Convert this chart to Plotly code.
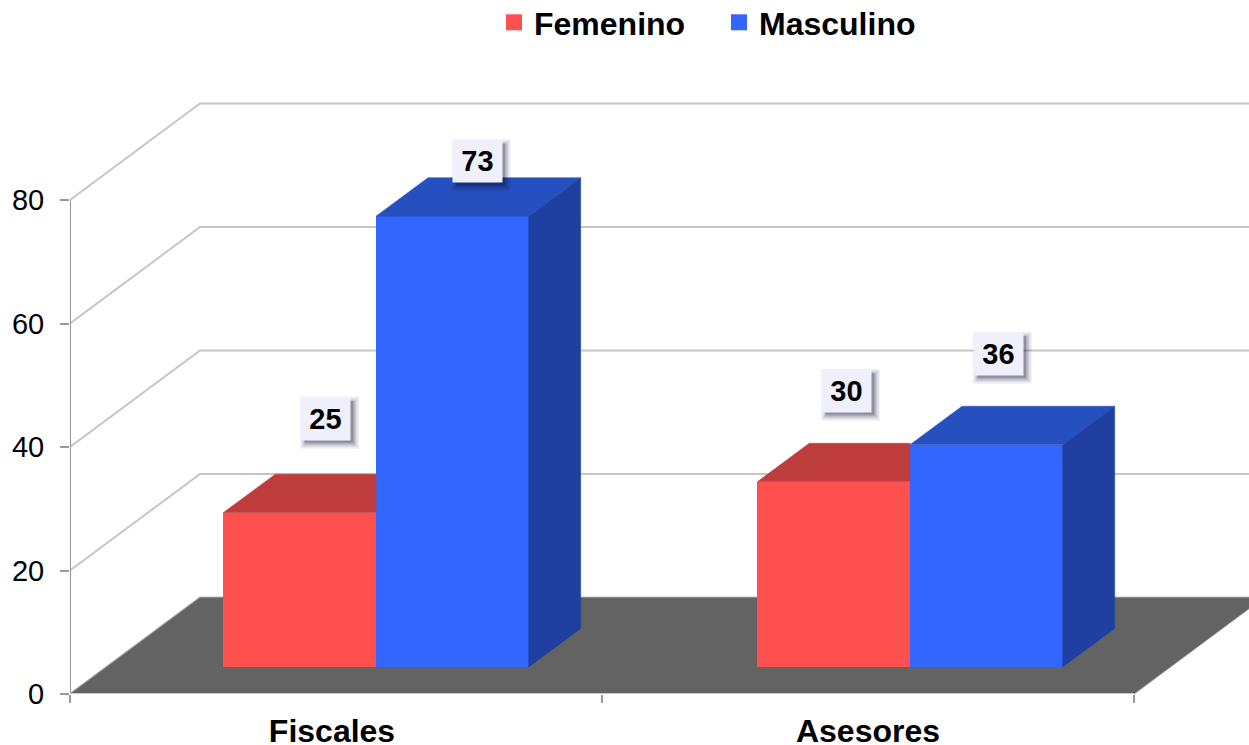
import plotly.graph_objects as go

categories = ["Fiscales", "Asesores"]
femenino = [25, 30]
masculino = [73, 36]
y_ticks = [0, 20, 40, 60, 80]

FONT = "Liberation Sans"
PX_X = 532.0            # pixels per category
PX_Y = 6.175            # pixels per value unit
W, H = 1249, 745
ML, MB = 70, 51
XMAX = (W - ML) / PX_X
YMAX = (H - MB) / PX_Y
WALL_DX, WALL_DY = 130 / PX_X, 96.5 / PX_Y     # depth of the whole chart box
BAR_DX, BAR_DY = 52 / PX_X, 38.5 / PX_Y        # depth of one bar
BAR_W = 152.7 / PX_X
BAR_SHIFT = 40 / PX_X                          # bars sit inside the floor
BAR_STEP = 534 / PX_X
BAR_LIFT = 27 / PX_Y

RED, RED_TOP = "#ff5050", "#bf3c3c"
BLUE, BLUE_TOP, BLUE_SIDE = "#3366ff", "#264fbf", "#1f40a0"
FLOOR, GRID, AXIS = "#636363", "#c6c6c6", "#9a9a9a"
LABEL_BG = "#f0f0fc"

centers = [0.5 + BAR_SHIFT + i * BAR_STEP for i in range(len(categories))]

fig = go.Figure()

# front faces
fig.add_trace(go.Bar(x=centers, y=femenino, base=[BAR_LIFT] * 2, width=BAR_W,
                     offset=-BAR_W, marker=dict(color=RED, line_width=0),
                     showlegend=False, hoverinfo="skip"))
fig.add_trace(go.Bar(x=centers, y=masculino, base=[BAR_LIFT] * 2, width=BAR_W,
                     offset=0, marker=dict(color=BLUE, line_width=0),
                     showlegend=False, hoverinfo="skip"))


def poly(xs, ys, color):
    fig.add_trace(go.Scatter(x=xs + xs[:1], y=ys + ys[:1], mode="lines", fill="toself",
                             fillcolor=color, line=dict(color=color, width=0.5),
                             showlegend=False, hoverinfo="skip", cliponaxis=False))


for c, f, m in zip(centers, femenino, masculino):
    tf, tm = f + BAR_LIFT, m + BAR_LIFT
    # top of the red bar stops where the taller blue bar begins
    poly([c - BAR_W, c - BAR_W + BAR_DX, c, c], [tf, tf + BAR_DY, tf + BAR_DY, tf], RED_TOP)
    poly([c, c + BAR_DX, c + BAR_W + BAR_DX, c + BAR_W], [tm, tm + BAR_DY, tm + BAR_DY, tm], BLUE_TOP)
    poly([c + BAR_W, c + BAR_W + BAR_DX, c + BAR_W + BAR_DX, c + BAR_W],
         [BAR_LIFT, BAR_LIFT + BAR_DY, tm + BAR_DY, tm], BLUE_SIDE)

# legend keys
for name, color in [("Femenino", RED), ("Masculino", BLUE)]:
    fig.add_trace(go.Scatter(x=[None], y=[None], mode="markers", name=name,
                             marker=dict(symbol="square", size=17, color=color)))

shapes = []
# wall gridlines
for t in y_ticks:
    shapes.append(dict(type="path", layer="below", line=dict(color=GRID, width=2),
                       path=f"M 0,{t} L {WALL_DX},{t + WALL_DY} L {XMAX},{t + WALL_DY}"))
# floor
n = len(categories)
shapes.append(dict(type="path", layer="below", fillcolor=FLOOR, line=dict(color="#8a8a8a", width=1),
                   path=f"M 0,0 L {WALL_DX},{WALL_DY} L {n + WALL_DX},{WALL_DY} L {n},0 Z"))
# front axis lines
shapes.append(dict(type="line", layer="below", x0=0, x1=0, y0=0, y1=y_ticks[-1],
                   line=dict(color=AXIS, width=2)))
shapes.append(dict(type="line", layer="below", x0=0, x1=n, y0=0, y1=0,
                   line=dict(color="#c8c8c8", width=2)))

# data labels
labels = [(centers[0] - BAR_W / 2, femenino[0], 26, 94),
          (centers[0] + BAR_W / 2, masculino[0], 25, 55),
          (centers[1] - BAR_W / 2, femenino[1], 13, 91),
          (centers[1] + BAR_W / 2, masculino[1], 12, 91)]
annotations = []
for x, v, sx, sy in labels:
    y = v + BAR_LIFT
    for off, alpha, grow in [(4, 0.06, 5), (4, 0.08, 3.5), (4, 0.1, 2), (4, 0.14, 0.5), (3, 0.18, 0)]:
        shapes.append(dict(type="rect", xref="x", yref="y", xsizemode="pixel", ysizemode="pixel",
                           xanchor=x, yanchor=y, layer="above", line_width=0,
                           fillcolor=f"rgba(10,10,50,{alpha})",
                           x0=sx - 24.5 + off - grow, x1=sx + 24.5 + off + grow,
                           y0=sy - 21 - off - grow, y1=sy + 21 - off + grow))
    annotations.append(dict(x=x, y=y, xref="x", yref="y", text=f"<b>{v}</b>", showarrow=False,
                            xshift=sx, yshift=sy, width=49, height=42, align="center",
                            valign="middle", bgcolor=LABEL_BG, borderpad=0,
                            font=dict(family=FONT, size=29, color="#000000")))

fig.update_layout(
    width=W, height=H, autosize=False, bargap=0,
    margin=dict(l=ML, r=0, t=0, b=MB, pad=0, autoexpand=False),
    paper_bgcolor="white", plot_bgcolor="white",
    shapes=shapes, annotations=annotations,
    font=dict(family=FONT, color="#000000"),
    legend=dict(orientation="h", x=(494 - ML) / (W - ML), xanchor="left", y=1 + 5 / (H - MB), yanchor="top",
                font=dict(family=FONT, size=32, weight="bold", color="#000000"),
                bgcolor="rgba(0,0,0,0)", entrywidth=180, entrywidthmode="pixels",
                itemclick=False, itemdoubleclick=False),
    xaxis=dict(range=[0, XMAX], showgrid=False, zeroline=False, showline=False, automargin=False,
               tickvals=[0.4925, 1.5], ticktext=categories, ticks="", ticklen=0,
               ticklabelstandoff=15,
               tickfont=dict(family=FONT, size=32, weight="bold", color="#000000"),
               minor=dict(tickvals=[0, 1, 2], ticks="outside", ticklen=8, tickwidth=2, tickcolor=AXIS)),
    yaxis=dict(range=[0, YMAX], showgrid=False, zeroline=False, showline=False, automargin=False,
               tickvals=y_ticks, ticks="outside", ticklen=9, tickwidth=2, tickcolor=AXIS,
               ticklabelstandoff=10,
               tickfont=dict(family=FONT, size=29, color="#000000")),
)

fig.write_html("out.html", config=dict(displayModeBar=False),
               post_script="document.body.style.margin='0';document.documentElement.style.overflow='hidden';")
